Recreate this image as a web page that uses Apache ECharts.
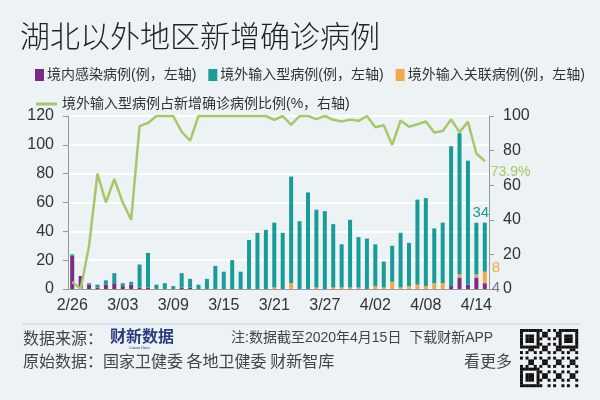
<!DOCTYPE html>
<html><head><meta charset="utf-8">
<script src="https://cdn.jsdelivr.net/npm/echarts@6/dist/echarts.min.js"></script>
<style>html,body{margin:0;padding:0;background:#edf2f5}#c{width:600px;height:400px}</style>
</head><body><div id="c"></div>
<script>
// ---- data ----
const dates = ['2/26','2/27','2/28','2/29','3/01','3/02','3/03','3/04','3/05','3/06','3/07','3/08','3/09','3/10','3/11','3/12','3/13','3/14','3/15','3/16','3/17','3/18','3/19','3/20','3/21','3/22','3/23','3/24','3/25','3/26','3/27','3/28','3/29','3/30','3/31','4/01','4/02','4/03','4/04','4/05','4/06','4/07','4/08','4/09','4/10','4/11','4/12','4/13','4/14','4/15'];
const domestic = [23,9,3,1,3,4,2,3,1,1,0,0,0,1,1,0,0,0,0,0,0,0,0,0,0,0,0,0,0,0,0,0,0,0,0,0,0,0,0,0,0,0,0,0,0,2,8,3,8,4];
const related  = [0,0,0,0,0,0,0,0,0,0,0,0,0,0,0,0,0,0,0,0,0,0,0,0,1,0,4,0,0,1,0,1,1,1,1,0,2,1,5,1,2,3,2,4,4,0,2,0,2,8];
const imported = [1,0,1,2,3,7,2,2,16,24,3,4,2,10,6,3,7,16,12,20,12,34,39,41,45,39,74,47,67,54,54,44,30,47,35,35,29,18,25,38,30,59,61,38,42,97,98,86,36,34];
const share    = [4.2,0,25,66.7,50,63.6,50,40,94.1,96,100,100,100,90.9,85.7,100,100,100,100,100,100,100,100,100,97.8,100,94.9,100,100,98.2,100,97.8,96.8,97.9,97.2,100,93.5,94.7,83.3,97.4,93.8,95.2,96.8,90.5,91.3,98,90.7,96.6,78.3,73.9];
const leftMax = 120, rightMax = 100, tickStep = 20;

const names = ['境内感染病例(例，左轴)','境外输入型病例(例，左轴)','境外输入关联病例(例，左轴)','境外输入型病例占新增确诊病例比例(%，右轴)'];
const C = {purple:'#7d2a86', teal:'#179c97', orange:'#f4a948', green:'#a6c867', text:'#333'};
const FONT = "'Liberation Sans','Noto Sans CJK SC',sans-serif";
const CJK = "'Noto Sans CJK SC',sans-serif";
const last = dates.length - 1;

function withLast(arr, label) {
  return arr.map((v, i) => i === last ? {value: v, label: Object.assign({show: true, fontFamily: FONT}, label)} : v);
}

// decorative QR-like block
function qr(x0, y0, size) {
  const n = 21, m = size / n, out = [];
  const finder = (r, c) => {
    const inF = (fr, fc) => r >= fr && r < fr + 7 && c >= fc && c < fc + 7;
    for (const [fr, fc] of [[0,0],[0,n-7],[n-7,0]]) {
      if (inF(fr, fc)) {
        const rr = r - fr, cc = c - fc;
        return (rr === 0 || rr === 6 || cc === 0 || cc === 6 || (rr >= 2 && rr <= 4 && cc >= 2 && cc <= 4)) ? 1 : 0;
      }
    }
    return -1;
  };
  for (let r = 0; r < n; r++) for (let c = 0; c < n; c++) {
    let f = finder(r, c);
    if (f === -1) f = ((r * 7 + c * 13 + r * c * 3) % 5 < 2) ? 1 : 0;
    if (f) out.push({type: 'rect', shape: {x: x0 + c * m, y: y0 + r * m, width: m + 0.2, height: m + 0.2}, style: {fill: '#111'}});
  }
  return out;
}

const chart = echarts.init(document.getElementById('c'), null, {renderer: 'canvas'});
chart.setOption({
  backgroundColor: '#edf2f5',
  animation: false,
  title: {text: '湖北以外地区新增确诊病例', left: 15, top: 16,
    textStyle: {fontSize: 30, fontWeight: 300, color: '#222', fontFamily: CJK}},
  legend: [
    {data: [names[0], names[1], names[2]], left: 30, top: 63, itemGap: 12, itemWidth: 9, itemHeight: 12,
      icon: 'rect', textStyle: {fontSize: 14, color: C.text, fontFamily: FONT, padding: [0, 0, 0, -2]}},
    {data: [{name: names[3], icon: 'rect'}], left: 31, top: 92, itemWidth: 21, itemHeight: 3,
      textStyle: {fontSize: 14, color: C.text, fontFamily: FONT}}
  ],
  grid: {left: 68, right: 111, top: 116, bottom: 111, containLabel: false},
  xAxis: {type: 'category', data: dates, boundaryGap: true,
    axisLine: {lineStyle: {color: '#999'}},
    axisTick: {interval: 5, length: 5, lineStyle: {color: '#999'}},
    axisLabel: {interval: 5, fontSize: 16, color: C.text, margin: 9, fontFamily: FONT}},
  yAxis: [
    {type: 'value', min: 0, max: leftMax, interval: tickStep,
      axisLine: {show: true, lineStyle: {color: '#999'}},
      axisTick: {show: true, length: 5, lineStyle: {color: '#999'}},
      axisLabel: {fontSize: 16, color: C.text, margin: 14, fontFamily: FONT},
      splitLine: {lineStyle: {color: '#ffffff', width: 2}}},
    {type: 'value', min: 0, max: rightMax, interval: tickStep, position: 'right',
      axisLine: {show: true, lineStyle: {color: '#999'}},
      axisTick: {show: true, length: 5, lineStyle: {color: '#999'}},
      axisLabel: {fontSize: 16, color: C.text, margin: 14, fontFamily: FONT},
      splitLine: {show: false}}
  ],
  series: [
    {name: names[0], type: 'bar', stack: 'a', barWidth: 4, itemStyle: {color: C.purple},
      data: withLast(domestic, {position: 'right', color: '#8a6a95', fontSize: 15, offset: [0, 2]})},
    {name: names[2], type: 'bar', stack: 'a', barWidth: 4, itemStyle: {color: C.orange},
      data: withLast(related, {position: 'right', color: C.orange, fontSize: 15, offset: [0, -10]})},
    {name: names[1], type: 'bar', stack: 'a', barWidth: 4, itemStyle: {color: C.teal},
      data: withLast(imported, {position: 'top', color: C.teal, fontSize: 15, offset: [-4, 3]})},
    {name: names[3], type: 'line', yAxisIndex: 1, symbol: 'none', z: 5,
      lineStyle: {color: C.green, width: 2.5}, itemStyle: {color: C.green},
      endLabel: {show: true, color: C.green, fontSize: 14, fontFamily: FONT, offset: [-2, 11],
        formatter: p => p.value + '%'},
      data: share}
  ],
  graphic: [
    {type: 'line', shape: {x1: 22, y1: 324, x2: 580, y2: 324}, style: {stroke: '#c9ced3', lineWidth: 1}},
    {type: 'text', left: 23, top: 330, style: {text: '数据来源：', fontSize: 16, fill: '#444', fontFamily: CJK}},
    {type: 'text', left: 110, top: 328, style: {text: '财新数据', fontSize: 16, fontWeight: 'bold', fill: '#2b3b80', fontFamily: CJK}},
    {type: 'text', left: 129, top: 346, style: {text: 'Caixin Data', fontSize: 4, fill: '#2b3b80', fontFamily: FONT}},
    {type: 'text', left: 231, top: 331, style: {text: '注:数据截至2020年4月15日  下载财新APP', fontSize: 14, fill: '#444', fontFamily: FONT}},
    {type: 'text', left: 23, top: 353, style: {text: '原始数据：国家卫健委 各地卫健委 财新智库', fontSize: 16, fill: '#444', fontFamily: CJK}},
    {type: 'text', left: 464, top: 353, style: {text: '看更多', fontSize: 16, fill: '#444', fontFamily: CJK}},
    {type: 'group', children: qr(520, 329, 58)}
  ]
});
</script></body></html>
